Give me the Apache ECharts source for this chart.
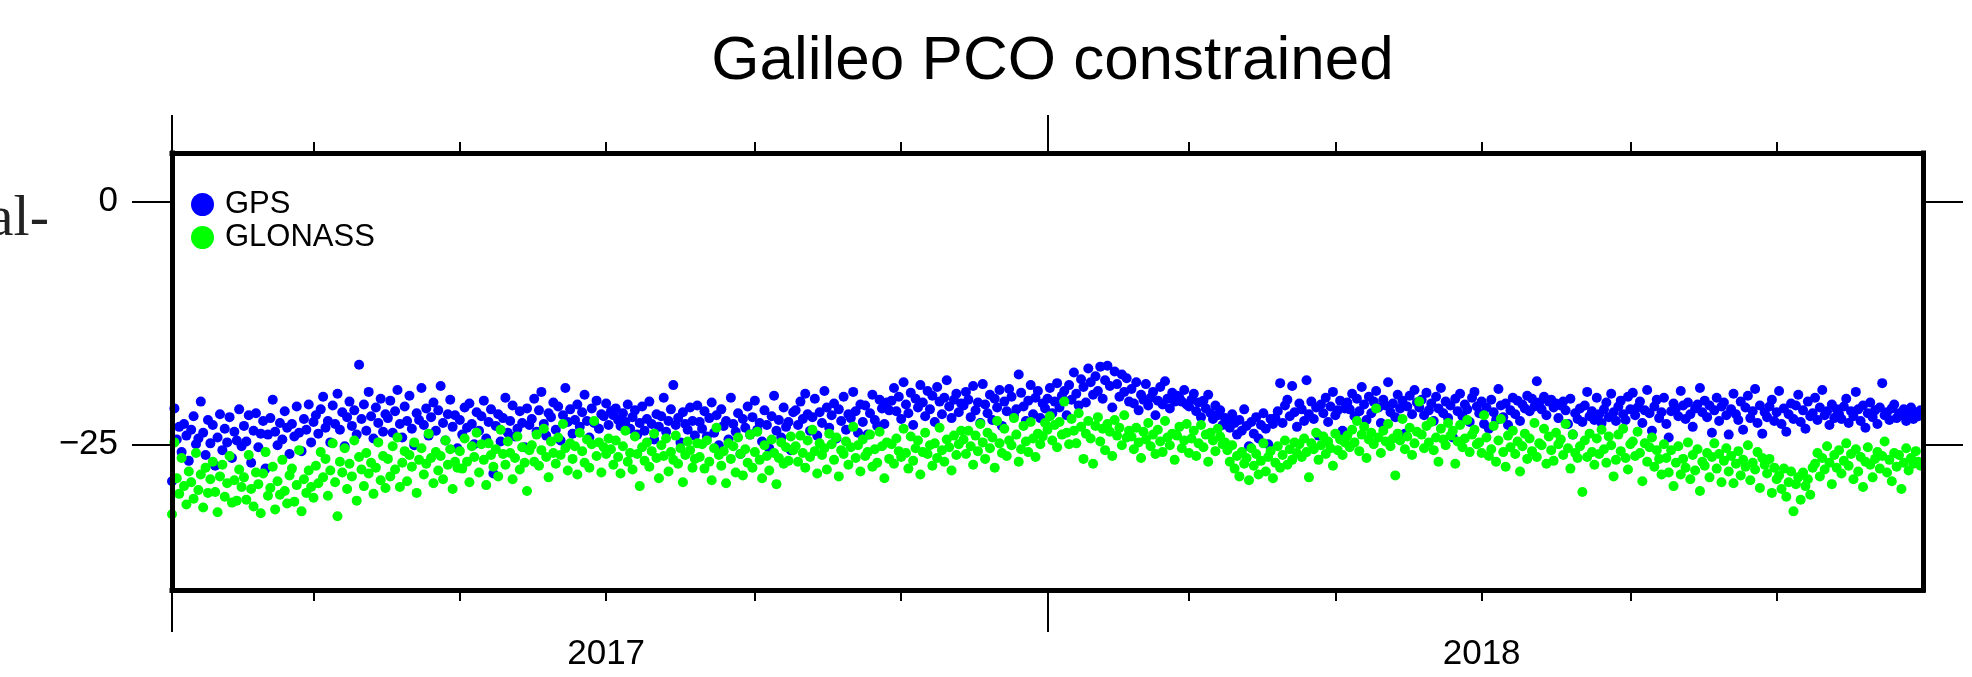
<!DOCTYPE html>
<html>
<head>
<meta charset="utf-8">
<script src="https://cdn.jsdelivr.net/npm/echarts@6/dist/echarts.min.js"></script>
<style>
html,body{margin:0;padding:0;background:#fff;}
#chart{width:1972px;height:677px;}
</style>
</head>
<body>
<div id="chart"></div>
<script>
// ---- data (daily values starting at startDate) ----
const startDate = '2017-01-01';
const endDate = '2019-01-01';
const titleText = 'Galileo PCO constrained';
const seriesNames = ['GPS', 'GLONASS'];
const yTickValues = [-25, 0];
const yearLabelDates = ['2017-07-01', '2018-07-01'];
const majorTickDates = ['2017-01-01', '2018-01-01'];
const minorTickDates = ['2017-03-01','2017-05-01','2017-07-01','2017-09-01','2017-11-01',
                        '2018-03-01','2018-05-01','2018-07-01','2018-09-01','2018-11-01'];

const gpsValues = [
-28.8,-21.3,-24.5,-23.2,-25.8,-22.9,-24.1,-26.7,-23.5,-22.1,-25.0,-24.4,-20.6,-23.8,-26.1,-22.5,-24.9,-23.0,-27.2,-24.3,-21.9,-25.6,-23.4,-24.8,-22.2,-26.4,-23.7,-24.6,-21.4,-25.2,
-23.1,-24.7,-22.0,-26.9,-23.6,-21.8,-25.3,-23.9,-22.6,-27.5,-24.0,-22.3,-20.4,-23.7,-25.1,-22.8,-24.5,-21.6,-23.3,-26.0,-22.9,-24.2,-21.1,-23.8,-25.7,-22.4,-23.5,-20.9,-24.8,-22.7,
-22.0,-23.9,-21.4,-20.1,-23.3,-22.6,-24.8,-21.0,-22.9,-19.8,-23.5,-21.7,-25.2,-22.2,-20.6,-23.1,-21.5,-24.0,-16.8,-22.4,-20.9,-23.6,-19.6,-22.1,-24.4,-21.2,-22.8,-20.3,-23.7,-21.9,
-22.3,-20.5,-23.8,-21.6,-19.4,-22.9,-24.3,-21.1,-22.6,-20.0,-23.4,-25.1,-21.8,-22.5,-19.2,-23.0,-21.3,-24.1,-22.2,-20.7,-23.6,-21.5,-19.0,-22.8,-24.6,-21.9,-20.4,-23.2,-22.0,-25.4,
-22.5,-24.0,-21.2,-23.3,-20.8,-22.9,-25.0,-21.7,-23.6,-22.1,-20.5,-24.4,-22.7,-21.4,-28.0,-23.1,-21.9,-24.7,-22.3,-20.2,-23.8,-22.6,-21.0,-24.2,-23.4,-21.6,-22.8,-25.3,-21.3,-23.0,
-22.4,-20.3,-23.7,-21.5,-19.6,-22.9,-24.1,-21.8,-22.2,-20.7,-23.5,-21.1,-24.6,-22.0,-19.2,-22.7,-21.4,-23.9,-22.5,-20.9,-23.2,-21.7,-19.9,-22.6,-24.3,-21.3,-22.8,-20.5,-23.4,-21.9,-22.1,-20.8,-23.0,
-21.6,-22.0,-21.3,-22.5,-23.1,-21.8,-22.7,-20.9,-23.4,-22.2,-21.5,-24.0,-22.8,-21.1,-23.6,-22.4,-20.6,-22.9,-24.5,-21.9,-23.2,-22.1,-20.2,-23.7,-22.6,-21.4,-18.9,-23.0,-22.3,-24.8,-21.7,-22.9,-23.5,-21.2,-22.6,-24.1,-21.0,
-22.7,-23.4,-21.6,-24.2,-22.3,-20.7,-23.8,-22.0,-25.1,-21.4,-23.1,-22.6,-24.5,-20.2,-22.9,-23.7,-21.8,-26.0,-22.4,-23.3,-21.1,-24.0,-22.2,-20.5,-23.5,-22.8,-24.7,-21.5,-23.0,-25.4,-22.1,-20.0,-23.6,-22.5,-24.3,-21.2,-23.2,-22.7,-25.6,-21.7,
-21.5,-23.0,-20.6,-22.4,-19.8,-21.9,-23.6,-22.2,-20.3,-24.1,-21.7,-22.8,-19.5,-21.2,-23.3,-22.0,-20.8,-24.4,-21.4,-22.6,-20.1,-23.5,-21.9,-22.3,-19.6,-21.6,-23.8,-20.9,-22.7,-21.0,-24.0,-21.8,-19.9,-22.5,-23.1,-20.4,-21.3,-22.9,-20.7,-21.5,
-20.5,-19.2,-21.6,-20.1,-22.4,-18.6,-20.9,-21.8,-19.7,-23.0,-20.3,-21.2,-18.9,-20.7,-22.1,-19.5,-21.4,-20.0,-22.7,-19.1,-20.6,-21.9,-20.2,-18.4,-21.1,-22.3,-20.4,-19.8,-21.7,-20.8,
-21.0,-19.6,-20.4,-22.2,-19.0,-21.5,-20.7,-22.8,-18.8,-20.9,-21.8,-19.9,-22.5,-20.3,-21.2,-19.4,-23.1,-20.6,-21.6,-19.3,-20.1,-22.0,-21.4,-17.8,-19.7,-21.1,-22.6,-20.5,-18.9,-21.9,-20.2,-19.5,-22.3,-20.8,-21.3,
-20.3,-19.2,-21.8,-20.6,-18.7,-21.2,-20.0,-19.5,-22.0,-18.9,-20.4,-17.6,-19.8,-21.0,-18.3,-19.1,-20.7,-17.2,-18.6,-19.9,
-18.0,-19.5,-17.0,-20.3,-18.4,-16.9,-19.0,-21.2,-17.5,-18.8,-20.1,-17.8,-19.6,-18.2,-20.6,
-19.3,-20.8,-18.6,-21.5,-19.9,-20.4,-18.8,-21.0,-20.2,-19.6,-22.0,-20.5,-19.1,-20.9,-18.5,-20.3,-21.3,-19.7,-20.6,-20.0,
-20.2,-20.6,-19.4,-20.9,-21.1,-20.4,-19.8,-21.6,-20.7,-22.2,-20.5,-21.3,-19.9,-21.8,-22.4,-21.0,-22.0,-21.5,-23.0,-22.3,
-22.6,-23.3,-21.9,-22.8,-24.0,-22.5,-23.6,-21.4,-23.1,-25.2,-22.7,-23.9,-22.2,-24.4,-23.0,-21.8,-23.4,-25.0,-22.4,-22.9,
-22.3,-21.6,-18.7,-22.8,-21.0,-20.4,-22.1,-19.0,-21.7,-23.2,-20.8,-21.4,-22.6,-18.4,-21.9,-20.6,-22.4,-21.2,-24.1,-20.9,-21.8,-20.2,-22.7,-21.1,-19.6,-22.0,-21.5,-20.5,-23.6,-21.3,
-20.7,-21.4,-19.8,-22.1,-20.3,-21.6,-19.1,-20.9,-22.5,-20.1,-21.8,-20.6,-19.5,-21.2,-22.8,-20.4,-21.0,-18.6,-21.7,-20.8,-22.2,-19.9,-21.3,-20.5,-23.9,-21.1,-20.0,-21.9,-19.4,-20.7,
-21.2,-20.4,-22.0,-19.7,-21.5,-20.8,-22.6,-20.1,-21.3,-19.2,-21.8,-20.6,-22.3,-21.0,-24.3,-20.3,-21.6,-19.8,-22.1,-20.9,-21.4,-22.7,-20.2,-19.6,-21.1,
-21.8,-20.6,-22.9,-21.2,-23.4,-20.4,-21.7,-22.5,-19.3,-21.0,-22.2,-20.8,-23.0,-21.5,-20.2,-21.9,-20.5,-22.6,-20.9,-21.3,-20.0,-21.6,-20.3,-21.1,-18.5,-20.7,-21.4,-20.1,-22.0,-20.6,
-20.4,-21.2,-20.8,-22.3,-21.0,-20.6,-21.5,-22.9,-20.3,-24.0,-21.8,-22.4,-21.3,-22.7,-21.0,-19.6,-22.1,-21.6,-22.5,-20.2,-21.9,-22.8,-21.4,-20.7,-22.2,-19.8,-21.7,-22.6,-21.1,-20.5,
-21.9,-22.5,-20.1,-21.4,-19.7,-22.0,-21.2,-20.6,-22.8,-21.5,-19.4,-21.8,-23.6,-21.1,-20.4,-22.3,-21.7,-20.2,-22.9,-24.3,-21.6,-20.8,-21.3,-22.1,-19.5,-21.0,-22.4,-20.7,-21.9,-23.2,
-21.3,-20.9,-19.2,-21.7,-20.5,-22.2,-21.0,-23.8,-21.5,-20.2,-22.6,-21.1,-20.7,-22.0,-24.0,-21.4,-19.8,-21.9,-22.5,-20.6,-23.5,-21.2,-20.0,-22.3,-21.6,-19.3,-22.8,-21.0,-23.9,-21.7,
-22.2,-21.1,-20.4,-22.6,-21.7,-19.5,-22.9,-21.3,-23.7,-21.9,-20.8,-22.4,-21.0,-19.9,-22.7,-21.5,-23.4,-20.6,-22.1,-21.8,-20.2,-22.5,-21.2,-19.4,-22.0,-21.6,-23.0,-20.9,-22.3,-21.4,
-21.9,-22.4,-21.1,-20.3,-22.8,-21.6,-22.1,-19.6,-21.4,-22.6,-21.0,-23.3,-21.8,-20.7,-22.2,-21.5,-22.9,-21.2,-18.7,-22.0,-21.7,-22.5,-21.3,-20.9,-22.3,-21.8,-22.0,-21.4,-22.6,-21.9,-21.2,-22.4,-21.7,-22.1,-21.5
];

const glonassValues = [
-32.2,-24.8,-28.5,-30.1,-26.4,-29.3,-31.2,-27.8,-28.9,-30.6,-25.9,-29.7,-28.1,-31.5,-27.4,-30.0,-28.6,-26.8,-29.9,-32.0,-28.3,-27.1,-30.4,-29.0,-26.2,-31.0,-28.7,-30.8,-27.6,-29.4,
-28.4,-30.7,-26.1,-29.6,-31.4,-27.9,-29.1,-32.1,-28.0,-25.8,-30.3,-29.5,-27.3,-31.7,-28.8,-30.2,-26.6,-29.8,-31.1,-28.2,-27.5,-30.9,-29.2,-25.6,-31.9,-28.6,-30.0,-27.7,-29.4,-30.5,
-27.2,-29.0,-25.8,-28.4,-26.5,-30.3,-27.7,-24.9,-28.9,-32.4,-26.8,-27.9,-25.4,-29.6,-27.0,-28.3,-24.6,-30.8,-26.3,-27.6,-29.3,-25.9,-28.0,-26.9,-30.1,-27.4,-24.8,-28.7,-26.2,-29.5,
-26.5,-28.3,-25.2,-27.6,-24.3,-29.4,-26.9,-25.7,-28.8,-26.1,-27.3,-24.8,-30.0,-26.6,-25.4,-28.1,-27.0,-23.9,-26.4,-29.0,-25.8,-27.7,-26.2,-28.6,-24.6,-27.1,-25.5,-29.6,-26.8,-27.4,
-25.7,-27.5,-24.4,-26.8,-28.9,-25.2,-26.3,-23.8,-27.9,-25.0,-26.6,-29.2,-24.9,-26.1,-27.3,-25.5,-28.3,-23.5,-26.0,-27.1,-24.7,-25.9,-28.6,-26.4,-24.2,-27.6,-25.3,-26.9,-29.8,-25.6,
-25.1,-26.8,-24.0,-27.2,-25.6,-23.4,-26.3,-28.4,-24.7,-25.9,-27.0,-24.3,-26.1,-22.9,-25.4,-27.7,-24.9,-26.5,-25.2,-28.1,-23.8,-25.7,-26.9,-24.5,-27.4,-25.0,-22.6,-26.2,-24.8,-27.9,-25.3,-26.0,-24.4,
-25.5,-27.1,-24.6,-26.3,-28.0,-25.2,-23.6,-26.8,-25.9,-27.6,-24.2,-26.0,-29.3,-25.3,-26.7,-24.8,-27.3,-25.7,-23.9,-26.4,-28.5,-25.1,-26.2,-24.4,-27.8,-25.8,-26.6,-24.1,-27.0,-25.4,-28.9,-26.1,-24.7,-25.6,-27.4,-26.5,-24.9,
-26.3,-25.0,-27.5,-24.6,-26.8,-28.7,-25.4,-23.3,-26.1,-27.2,-25.7,-29.0,-24.9,-26.5,-25.2,-27.9,-24.3,-26.0,-28.2,-25.5,-26.9,-24.0,-27.4,-25.8,-23.7,-26.6,-28.5,-25.1,-26.2,-27.7,-24.5,-25.9,-29.1,-26.4,-24.8,-27.0,-25.3,-26.7,-24.2,-25.6,
-25.2,-26.8,-24.1,-25.9,-27.4,-24.6,-26.3,-23.5,-25.7,-28.0,-24.9,-26.1,-25.4,-27.6,-23.9,-25.0,-26.6,-24.3,-28.3,-25.6,-26.0,-24.7,-27.1,-25.3,-23.2,-26.4,-25.1,-27.8,-24.5,-26.2,
-25.8,-24.0,-27.3,-25.5,-26.9,-23.7,-25.2,-28.5,-24.8,-26.5,-25.0,-27.0,-24.4,-25.7,-26.3,-23.4,-25.9,-27.5,-24.2,-26.7,-25.4,-24.6,-28.1,-25.8,-23.8,-26.0,-25.1,-27.2,-24.9,-26.4,
-23.3,-25.6,-26.8,-24.5,-25.3,-27.7,-24.1,-26.1,-25.0,-23.6,
-24.5,-26.0,-23.6,-25.2,-27.1,-24.1,-25.7,-22.9,-24.8,-26.5,-23.8,-25.4,-24.3,-27.4,-22.6,-24.9,-25.9,-23.4,-26.2,-24.6,-25.1,-22.3,-24.0,-26.8,-25.5,-23.1,-24.7,-25.8,-22.7,-24.4,-26.3,-23.9,-25.0,-24.2,-22.8,
-23.5,-22.1,-24.6,-23.0,-25.3,-22.7,-24.0,-20.6,-23.8,-25.0,-22.4,-23.6,-24.9,-21.8,-23.2,-26.5,-23.9,-22.6,-24.4,-27.0,-23.1,-22.2,-24.7,-23.4,-25.6,-22.9,-23.7,-26.2,-22.5,-24.1,-23.3,-25.1,-22.0,-24.3,-23.6,
-24.2,-25.5,-23.3,-24.8,-26.4,-23.7,-24.5,-22.8,-25.2,-24.0,-26.0,-23.5,-24.7,-25.8,-22.6,-24.3,-25.1,-23.9,-26.6,-24.1,-23.2,-25.4,-24.6,-22.9,-25.9,-24.4,-23.6,-26.2,-24.9,-23.0,-25.3,-24.0,-26.8,-23.8,-24.6,-25.7,-23.4,-24.2,-25.0,-24.8,
-25.6,-26.8,-25.1,-27.5,-26.2,-28.3,-25.8,-27.0,-26.4,-28.7,-25.4,-27.2,-26.0,-28.1,-26.7,-24.9,-27.8,-26.3,-25.7,-28.5,-26.9,-25.2,-27.4,-26.1,-24.6,-27.1,-25.5,-26.6,-24.8,-25.9,
-25.0,-26.3,-24.4,-25.8,-28.4,-24.9,-25.5,-23.8,-26.6,-25.1,-24.2,-26.0,-24.7,-25.4,-27.2,-23.9,-25.6,-24.5,-26.1,-24.8,
-24.1,-25.3,-23.5,-24.8,-22.6,-25.7,-24.0,-23.2,-26.4,-24.5,-23.8,-25.0,-21.3,-24.3,-25.9,-23.6,-24.7,-22.9,-25.2,-24.4,-28.2,-23.9,-24.6,-22.4,-25.5,-24.2,-23.3,-26.1,-24.9,-23.7,
-20.6,-24.0,-25.4,-23.1,-24.8,-22.7,-25.6,-24.3,-26.8,-23.4,-24.5,-25.1,-22.8,-24.1,-23.6,-27.0,-24.7,-23.0,-25.3,-24.4,-22.5,-25.8,-24.0,-23.5,-25.0,
-24.8,-25.9,-22.0,-24.3,-26.2,-25.5,-23.1,-26.8,-24.6,-22.4,-25.8,-27.3,-24.1,-25.3,-23.6,-26.0,-24.7,-27.8,-25.2,-23.9,-26.5,-24.4,-25.7,-22.8,-26.3,-24.9,-25.1,-23.4,-27.0,-24.2,
-25.6,-26.7,-23.8,-25.0,-24.5,-26.1,-22.9,-25.4,-27.5,-24.0,-25.9,-26.4,
-25.2,-29.9,-24.6,-26.3,-23.9,-25.8,-27.1,-24.4,-26.0,-23.5,-25.5,-26.9,-24.2,-25.1,-28.3,-26.6,-24.0,-25.7,-23.4,-26.4,-27.6,-25.0,-24.7,-26.2,-23.7,-25.9,-28.8,-24.9,-26.8,-25.3,
-24.3,-27.3,-25.6,-26.5,-28.1,-25.0,
-26.4,-27.9,-25.6,-29.3,-26.9,-25.2,-28.1,-26.5,-27.4,-24.8,-28.6,-26.1,-27.7,-25.5,-29.8,-26.8,-27.2,-25.9,-28.4,-26.3,-24.9,-27.5,-26.0,-28.9,-26.7,-25.4,-27.8,-26.2,-29.0,-27.0,
-25.7,-28.2,-26.6,-27.3,-25.1,-28.7,-26.9,-27.6,-25.8,-29.5,-26.4,-27.1,-28.0,-26.5,-30.0,-27.4,-28.6,
-28.2,-29.6,-27.5,-30.4,-28.9,-27.8,-31.9,-29.1,-28.4,-30.7,-27.9,-29.3,-28.6,-30.2,-27.4,
-27.0,-25.9,-28.3,-26.4,-27.6,-25.2,-26.9,-29.1,-26.1,-27.4,-25.6,-28.0,-26.7,-24.9,-27.2,-26.0,-28.6,-25.5,-27.8,-26.3,-29.4,-26.8,-25.3,-27.1,-28.4,-26.5,-25.8,-27.5,-26.2,-24.7,
-27.9,-26.6,-28.8,-25.9,-27.3,-26.1,-29.6,-26.9,-25.4,-27.7,-26.4,-27.0,-25.7,-26.8,-27.2
];

// ---- build ----
const DAY = 86400000;
function ts(s){ const p = s.split('-'); return Date.UTC(+p[0], +p[1]-1, +p[2]); }
const t0 = ts(startDate), t1 = ts(endDate);
function toPairs(vals){ return vals.map((v,i)=>[t0 + i*DAY, v]); }

const FONT = '"Liberation Sans", Arial, Helvetica, sans-serif';
const tickStyle = {color:'#000', width:2};
const frameStyle = {color:'#000', width:5, cap:'square'};

function xAxisDef(pos, ticks, len, withLine, labels){
  return {
    type:'value', gridIndex:0, position:pos, min:t0, max:t1, z:10,
    axisLine:{show:withLine, onZero:false, lineStyle:frameStyle},
    axisTick:{show:true, inside:false, length:len, customValues:ticks.map(ts), lineStyle:tickStyle},
    axisLabel: labels ? {show:true, customValues:labels.map(ts), margin:47,
        formatter:(v)=>String(new Date(v).getUTCFullYear()),
        fontSize:35, fontFamily:FONT, color:'#000'} : {show:false},
    splitLine:{show:false}
  };
}

const chart = echarts.init(document.getElementById('chart'), null, {renderer:'canvas'});
chart.setOption({
  animation:false,
  backgroundColor:'#fff',
  title:{text:titleText, left:1047.5, top:26, textAlign:'center',
    textStyle:{fontSize:62, fontWeight:'normal', fontFamily:FONT, color:'#000'}},
  legend:{
    data:seriesNames, orient:'vertical', left:191, top:189, padding:0,
    itemWidth:23, itemHeight:23, itemGap:2, icon:'circle',
    textStyle:{fontSize:31, fontFamily:FONT, color:'#000', padding:[0,0,0,6]}
  },
  grid:{left:172, top:153, width:1751, height:437, show:false},
  xAxis:[
    xAxisDef('bottom', minorTickDates, 11, true, yearLabelDates),
    xAxisDef('bottom', majorTickDates, 42, false, null),
    xAxisDef('top', minorTickDates, 11, true, null),
    xAxisDef('top', majorTickDates, 38, false, null)
  ],
  yAxis:[
    {type:'value', position:'left', min:-40, max:5, z:10,
     axisLine:{show:true, onZero:false, lineStyle:frameStyle},
     axisTick:{show:true, length:40, customValues:yTickValues, lineStyle:tickStyle},
     axisLabel:{show:true, customValues:yTickValues, margin:54, fontSize:35, fontFamily:FONT, color:'#000',
       formatter:(v)=>String(v).replace('-', '\u2212')},
     splitLine:{show:false}},
    {type:'value', position:'right', min:-40, max:5, z:10,
     axisLine:{show:true, onZero:false, lineStyle:frameStyle},
     axisTick:{show:true, length:40, customValues:yTickValues, lineStyle:tickStyle},
     axisLabel:{show:false}, splitLine:{show:false}}
  ],
  graphic:[{
    type:'text', x:49, y:220, z:5,
    style:{text:'al-', fontSize:58, fontFamily:'"Liberation Serif", "Times New Roman", serif', fill:'#222', align:'right', verticalAlign:'middle'}
  }],
  series:[
    {name:seriesNames[0], type:'scatter', xAxisIndex:0, yAxisIndex:0, symbol:'circle', symbolSize:10,
     itemStyle:{color:'#0000ff', opacity:1}, data:toPairs(gpsValues)},
    {name:seriesNames[1], type:'scatter', xAxisIndex:0, yAxisIndex:0, symbol:'circle', symbolSize:10,
     itemStyle:{color:'#00ff00', opacity:1}, data:toPairs(glonassValues)}
  ]
});
</script>
</body>
</html>
